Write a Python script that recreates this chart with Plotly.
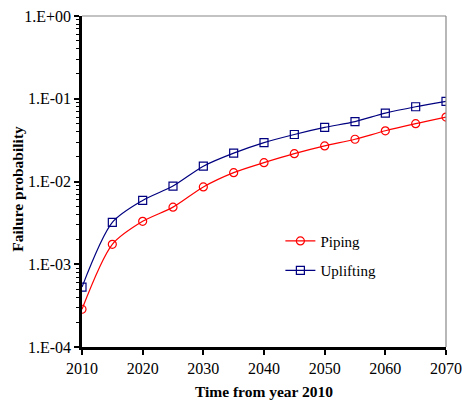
import plotly.graph_objects as go

years = [2010, 2015, 2020, 2025, 2030, 2035, 2040, 2045, 2050, 2055, 2060, 2065, 2070]
piping = [2.86e-4, 1.74e-3, 3.3e-3, 4.9e-3, 8.6e-3, 1.28e-2, 1.69e-2, 2.17e-2, 2.69e-2, 3.24e-2, 4.1e-2, 5.0e-2, 6.0e-2]
uplifting = [5.3e-4, 3.2e-3, 5.9e-3, 8.8e-3, 1.53e-2, 2.2e-2, 2.95e-2, 3.7e-2, 4.5e-2, 5.3e-2, 6.7e-2, 8.0e-2, 9.3e-2]

y_tickvals = [1e-4, 1e-3, 1e-2, 1e-1, 1e0]
y_ticktext = ["1.E-04", "1.E-03", "1.E-02", "1.E-01", "1.E+00"]
y_minor = [m * 10 ** e for e in range(-4, 0) for m in range(2, 10)]
x_tickvals = [2010, 2020, 2030, 2040, 2050, 2060, 2070]

FONT = "Liberation Serif"

fig = go.Figure()
fig.add_trace(go.Scatter(
    x=years, y=piping, name="Piping", mode="lines+markers",
    line=dict(color="#FF0000", width=1.2, shape="spline", smoothing=0.8),
    marker=dict(symbol="circle-open", size=8, color="#FF0000", line=dict(width=1.2)),
    legendgroup="a",
))
fig.add_trace(go.Scatter(
    x=years, y=uplifting, name="Uplifting", mode="lines+markers",
    line=dict(color="#000080", width=1.2, shape="spline", smoothing=0.8),
    marker=dict(symbol="square-open", size=8, color="#000080", line=dict(width=1.2)),
    legendgroup="b",
))

fig.update_layout(
    width=462, height=403,
    margin=dict(l=82, r=16, t=16, b=56),
    paper_bgcolor="white", plot_bgcolor="white",
    font=dict(family=FONT, size=16, color="black"),
    showlegend=True,
    legend=dict(x=0.545, y=0.276, xanchor="left", yanchor="middle",
                font=dict(family=FONT, size=15, color="black"),
                bgcolor="rgba(0,0,0,0)", tracegroupgap=7),
    xaxis=dict(
        range=[2010, 2070], tickvals=x_tickvals, ticks="outside", ticklen=5,
        tickwidth=1.5, tickcolor="black", showline=True, linecolor="black",
        linewidth=2.5, showgrid=False, zeroline=False, automargin=False,
        tickfont=dict(family=FONT, size=16),
        title=dict(text="<b>Time from year 2010</b>", font=dict(family=FONT, size=15.5), standoff=11),
    ),
    yaxis=dict(
        type="log", range=[-4, 0], tickvals=y_tickvals, ticktext=y_ticktext,
        ticks="outside", ticklen=5, tickwidth=1.5, tickcolor="black",
        minor=dict(tickvals=y_minor, ticks="outside", ticklen=3, tickwidth=1.2, tickcolor="black"),
        showline=True, linecolor="black", linewidth=2.5, showgrid=False, zeroline=False,
        automargin=False,
        tickfont=dict(family=FONT, size=16),
    ),
    yaxis2=dict(
        type="log", range=[-4, 0], overlaying="y", side="left", anchor="x",
        tickvals=y_tickvals, showticklabels=False, automargin=False,
        ticks="inside", ticklen=5, tickwidth=1.5, tickcolor="black",
        minor=dict(tickvals=y_minor, ticks="inside", ticklen=3, tickwidth=1.2, tickcolor="black"),
        showline=False, showgrid=False, zeroline=False,
    ),
)

fig.add_annotation(text="<b>Failure probability</b>", xref="paper", yref="paper",
                   x=-82 / 364 + 18 / 364, y=(346.7 - 188.5) / 331, xanchor="center", yanchor="middle",
                   textangle=-90, showarrow=False, font=dict(family=FONT, size=15.5, color="black"))

# gray frame on top and right
fig.add_shape(type="line", xref="paper", yref="paper", x0=0, x1=1, y0=1, y1=1,
              line=dict(color="#888888", width=1.2))
fig.add_shape(type="line", xref="paper", yref="paper", x0=1, x1=1, y0=0, y1=1,
              line=dict(color="#888888", width=1.2))

fig.write_html("out.html")
